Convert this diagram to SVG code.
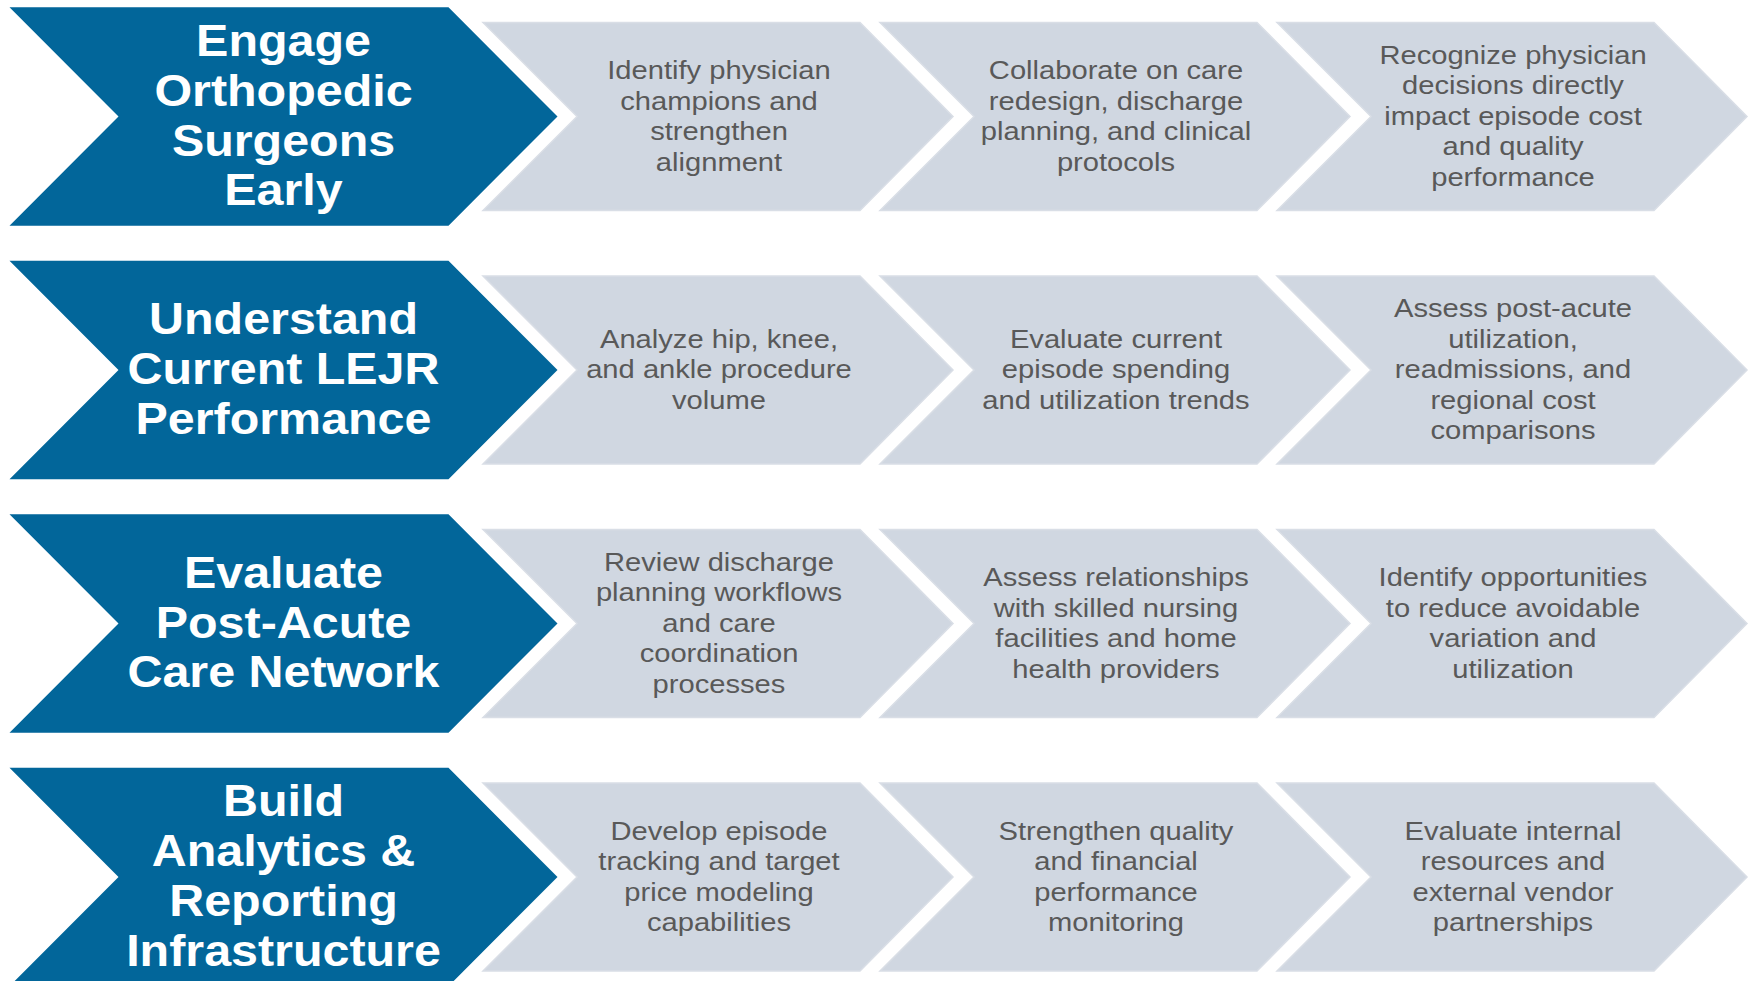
<svg xmlns="http://www.w3.org/2000/svg" xmlns:xlink="http://www.w3.org/1999/xlink" width="1752" height="981" viewBox="0 0 1752 981">
<style>
.hdr{fill:#02669A}
.stp{fill:#D0D7E1;stroke:#D9DEE6;stroke-width:1.5}
.ht{font-family:"Liberation Sans",Arial,sans-serif;font-weight:bold;font-size:44px;fill:#FFFFFF;text-anchor:middle}
.st{font-family:"Liberation Sans",Arial,sans-serif;font-size:26.5px;fill:#595959;text-anchor:middle}
</style>
<defs>
<polygon id="blue" points="9.5,7.3 448.5,7.3 557.5,116.5 448.5,225.7 9.5,225.7 118.5,116.5"/>
<polygon id="gray" points="0,22.5 377,22.5 470,116.5 377,210.5 0,210.5 94,116.5"/>
</defs>
<rect width="1752" height="981" fill="#FFFFFF"/>
<g id="connectors"></g>

<g id="row1">
<g id="h1"><use href="#blue" class="hdr"/>
<text class="ht" transform="translate(283.5,0) scale(1.1,1)"><tspan x="0" y="56">Engage</tspan><tspan x="0" y="105.8">Orthopedic</tspan><tspan x="0" y="155.6">Surgeons</tspan><tspan x="0" y="205.4">Early</tspan></text></g>
<g id="s1a"><use href="#gray" x="483" class="stp"/>
<text class="st" transform="translate(719,0) scale(1.1,1)"><tspan x="0" y="79.25">Identify physician</tspan><tspan x="0" y="109.75">champions and</tspan><tspan x="0" y="140.25">strengthen</tspan><tspan x="0" y="170.75">alignment</tspan></text></g>
<g id="s1b"><use href="#gray" x="880" class="stp"/>
<text class="st" transform="translate(1116,0) scale(1.1,1)"><tspan x="0" y="79.25">Collaborate on care</tspan><tspan x="0" y="109.75">redesign, discharge</tspan><tspan x="0" y="140.25">planning, and clinical</tspan><tspan x="0" y="170.75">protocols</tspan></text></g>
<g id="s1c"><use href="#gray" x="1277" class="stp"/>
<text class="st" transform="translate(1513,0) scale(1.1,1)"><tspan x="0" y="64">Recognize physician</tspan><tspan x="0" y="94.5">decisions directly</tspan><tspan x="0" y="125">impact episode cost</tspan><tspan x="0" y="155.5">and quality</tspan><tspan x="0" y="186">performance</tspan></text></g>
</g>

<g id="row2" transform="translate(0,253.5)">
<g id="h2"><use href="#blue" class="hdr"/>
<text class="ht" transform="translate(283.5,0) scale(1.1,1)"><tspan x="0" y="80.9">Understand</tspan><tspan x="0" y="130.7">Current LEJR</tspan><tspan x="0" y="180.5">Performance</tspan></text></g>
<g id="s2a"><use href="#gray" x="483" class="stp"/>
<text class="st" transform="translate(719,0) scale(1.1,1)"><tspan x="0" y="94.5">Analyze hip, knee,</tspan><tspan x="0" y="125">and ankle procedure</tspan><tspan x="0" y="155.5">volume</tspan></text></g>
<g id="s2b"><use href="#gray" x="880" class="stp"/>
<text class="st" transform="translate(1116,0) scale(1.1,1)"><tspan x="0" y="94.5">Evaluate current</tspan><tspan x="0" y="125">episode spending</tspan><tspan x="0" y="155.5">and utilization trends</tspan></text></g>
<g id="s2c"><use href="#gray" x="1277" class="stp"/>
<text class="st" transform="translate(1513,0) scale(1.1,1)"><tspan x="0" y="64">Assess post-acute</tspan><tspan x="0" y="94.5">utilization,</tspan><tspan x="0" y="125">readmissions, and</tspan><tspan x="0" y="155.5">regional cost</tspan><tspan x="0" y="186">comparisons</tspan></text></g>
</g>

<g id="row3" transform="translate(0,507)">
<g id="h3"><use href="#blue" class="hdr"/>
<text class="ht" transform="translate(283.5,0) scale(1.1,1)"><tspan x="0" y="80.9">Evaluate</tspan><tspan x="0" y="130.7">Post-Acute</tspan><tspan x="0" y="180.5">Care Network</tspan></text></g>
<g id="s3a"><use href="#gray" x="483" class="stp"/>
<text class="st" transform="translate(719,0) scale(1.1,1)"><tspan x="0" y="64">Review discharge</tspan><tspan x="0" y="94.5">planning workflows</tspan><tspan x="0" y="125">and care</tspan><tspan x="0" y="155.5">coordination</tspan><tspan x="0" y="186">processes</tspan></text></g>
<g id="s3b"><use href="#gray" x="880" class="stp"/>
<text class="st" transform="translate(1116,0) scale(1.1,1)"><tspan x="0" y="79.25">Assess relationships</tspan><tspan x="0" y="109.75">with skilled nursing</tspan><tspan x="0" y="140.25">facilities and home</tspan><tspan x="0" y="170.75">health providers</tspan></text></g>
<g id="s3c"><use href="#gray" x="1277" class="stp"/>
<text class="st" transform="translate(1513,0) scale(1.1,1)"><tspan x="0" y="79.25">Identify opportunities</tspan><tspan x="0" y="109.75">to reduce avoidable</tspan><tspan x="0" y="140.25">variation and</tspan><tspan x="0" y="170.75">utilization</tspan></text></g>
</g>

<g id="row4" transform="translate(0,760.5)">
<g id="h4"><use href="#blue" class="hdr"/>
<text class="ht" transform="translate(283.5,0) scale(1.1,1)"><tspan x="0" y="56">Build</tspan><tspan x="0" y="105.8">Analytics &amp;</tspan><tspan x="0" y="155.6">Reporting</tspan><tspan x="0" y="205.4">Infrastructure</tspan></text></g>
<g id="s4a"><use href="#gray" x="483" class="stp"/>
<text class="st" transform="translate(719,0) scale(1.1,1)"><tspan x="0" y="79.25">Develop episode</tspan><tspan x="0" y="109.75">tracking and target</tspan><tspan x="0" y="140.25">price modeling</tspan><tspan x="0" y="170.75">capabilities</tspan></text></g>
<g id="s4b"><use href="#gray" x="880" class="stp"/>
<text class="st" transform="translate(1116,0) scale(1.1,1)"><tspan x="0" y="79.25">Strengthen quality</tspan><tspan x="0" y="109.75">and financial</tspan><tspan x="0" y="140.25">performance</tspan><tspan x="0" y="170.75">monitoring</tspan></text></g>
<g id="s4c"><use href="#gray" x="1277" class="stp"/>
<text class="st" transform="translate(1513,0) scale(1.1,1)"><tspan x="0" y="79.25">Evaluate internal</tspan><tspan x="0" y="109.75">resources and</tspan><tspan x="0" y="140.25">external vendor</tspan><tspan x="0" y="170.75">partnerships</tspan></text></g>
</g>
</svg>
